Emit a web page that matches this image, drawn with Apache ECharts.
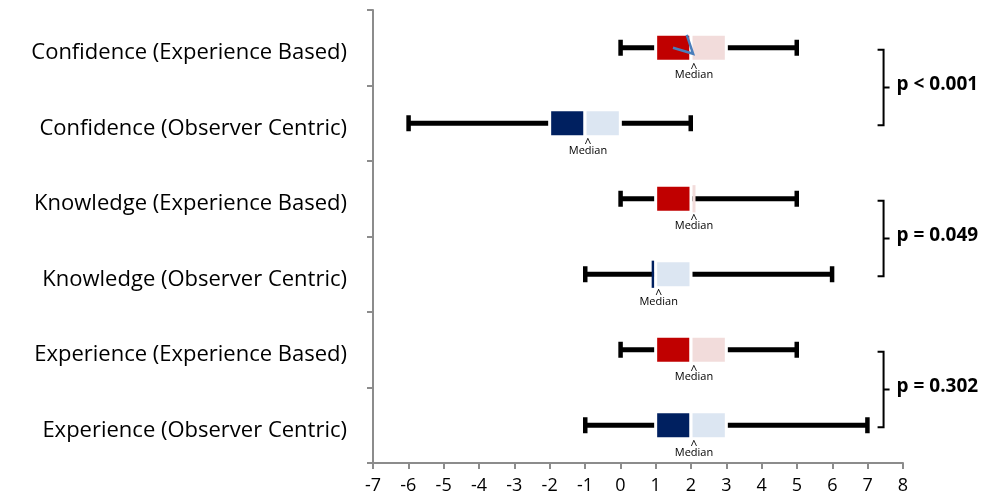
<!DOCTYPE html>
<html>
<head>
<meta charset="utf-8">
<script src="https://cdn.jsdelivr.net/npm/echarts@6/dist/echarts.min.js"></script>
<style>
html,body{margin:0;padding:0;background:#fff;}
#chart{width:991px;height:495px;}
</style>
</head>
<body>
<div id="chart"></div>
<script>
// ---- data ----
const categories = [
  'Confidence (Experience Based)',
  'Confidence (Observer Centric)',
  'Knowledge (Experience Based)',
  'Knowledge (Observer Centric)',
  'Experience (Experience Based)',
  'Experience (Observer Centric)'
];
const groups = ['EB', 'OC', 'EB', 'OC', 'EB', 'OC'];
const minValues    = [0, -6, 0, -1, 0, -1];
const q1Values     = [1, -2, 1,  1, 1,  1];
const medianValues = [2, -1, 2,  1, 2,  2];
const q3Values     = [3,  0, 2,  2, 3,  3];
const maxValues    = [5,  2, 5,  6, 5,  7];
const xMin = -7, xMax = 8, xInterval = 1;
const pLabels = ['p < 0.001', 'p = 0.049', 'p = 0.302'];
const pPairs = [[0, 1], [2, 3], [4, 5]];
const bracketX = 7.45;
// stray blue stroke seen over the first box (x in data units, y as fraction of band)
const strayStroke = { cat: 0, points: [[1.49, 0], [2.06, 0.08], [1.88, -0.17]] };

const colors = {
  EB: { dark: '#C00000', light: '#F2DCDB' },
  OC: { dark: '#002060', light: '#DCE6F2' }
};

const boxData = categories.map((c, i) => [i, minValues[i], q1Values[i], medianValues[i], q3Values[i], maxValues[i]]);
const bracketData = pPairs.map((p, i) => [bracketX, p[0], p[1], i]);

const FONT = '"Open Sans", "Liberation Sans", sans-serif';

function renderBox(params, api) {
  const cat = api.value(0);
  const mn = api.value(1), q1 = api.value(2), md = api.value(3), q3 = api.value(4), mx = api.value(5);
  const cy = api.coord([0, cat])[1];
  const band = api.size([0, 1])[1];
  const bh = band * 0.36;
  const px = v => api.coord([v, cat])[0];
  const col = colors[groups[cat]];
  const top = cy - bh / 2;
  const children = [];
  // whisker
  children.push({ type: 'line', shape: { x1: px(mn), y1: cy, x2: px(mx), y2: cy }, style: { stroke: '#000', lineWidth: 5 } });
  children.push({ type: 'rect', shape: { x: px(mn) - 2, y: cy - 8, width: 4.5, height: 16 }, style: { fill: '#000' } });
  children.push({ type: 'rect', shape: { x: px(mx) - 2.5, y: cy - 8, width: 4.5, height: 16 }, style: { fill: '#000' } });
  const xq1 = px(q1), xmd = px(md), xq3 = px(q3);
  if (xmd - xq1 > 3) {
    children.push({ type: 'rect', shape: { x: xq1, y: top, width: xmd - xq1, height: bh }, style: { fill: col.dark, stroke: '#fff', lineWidth: 3 } });
  } else {
    children.push({ type: 'rect', shape: { x: xmd - 4, y: top, width: 3, height: bh }, style: { fill: col.dark } });
  }
  if (xq3 - xmd > 3) {
    children.push({ type: 'rect', shape: { x: xmd, y: top, width: xq3 - xmd, height: bh }, style: { fill: col.light, stroke: '#fff', lineWidth: 3 } });
  } else {
    children.push({ type: 'rect', shape: { x: xmd + 1.5, y: top, width: 3, height: bh }, style: { fill: col.light } });
  }
  // median marker
  children.push({ type: 'text', x: xmd + 3, y: top + bh + 1, style: { text: '^', fill: '#000', font: '12px ' + FONT, align: 'center', verticalAlign: 'top' } });
  children.push({ type: 'text', x: xmd + 3, y: top + bh + 14, style: { text: 'Median', fill: '#000', font: '11px ' + FONT, align: 'center', verticalAlign: 'middle' } });
  if (cat === strayStroke.cat) {
    const pts = strayStroke.points.map(p => [px(p[0]), cy + p[1] * band]);
    children.push({ type: 'polyline', shape: { points: pts }, style: { stroke: '#4A7EBB', lineWidth: 2.5, fill: null } });
  }
  return { type: 'group', children };
}

function renderBracket(params, api) {
  const x = api.coord([api.value(0), 0])[0];
  const y1 = api.coord([0, api.value(1)])[1] + 2;
  const y2 = api.coord([0, api.value(2)])[1] + 2;
  const idx = api.value(3);
  const ym = (y1 + y2) / 2;
  const st = { stroke: '#000', lineWidth: 2, fill: null };
  return {
    type: 'group',
    children: [
      { type: 'polyline', shape: { points: [[x - 6, y1], [x, y1], [x, y2], [x - 6, y2]] }, style: st },
      { type: 'line', shape: { x1: x, y1: ym, x2: x + 6, y2: ym }, style: st },
      { type: 'text', x: x + 13, y: ym - 3, style: { text: pLabels[idx], fill: '#000', font: 'bold 19px ' + FONT, align: 'left', verticalAlign: 'middle' } }
    ]
  };
}

const chart = echarts.init(document.getElementById('chart'));
chart.setOption({
  animation: false,
  backgroundColor: '#fff',
  grid: { left: 373, right: 88, top: 10, bottom: 30 },
  xAxis: {
    type: 'value', min: xMin, max: xMax, interval: xInterval,
    splitLine: { show: false },
    axisLine: { show: true, lineStyle: { color: '#8C8C8C', width: 2 } },
    axisTick: { show: true, length: 6, lineStyle: { color: '#8C8C8C', width: 2 } },
    axisLabel: { color: '#000', fontSize: 18, fontFamily: FONT, margin: 14 }
  },
  yAxis: {
    type: 'category', data: categories, inverse: true,
    axisLine: { show: true, onZero: false, lineStyle: { color: '#8C8C8C', width: 2 } },
    axisTick: { show: true, length: 6, lineStyle: { color: '#8C8C8C', width: 2 } },
    axisLabel: {
      margin: 26,
      formatter: v => '{a|' + v + '}',
      rich: { a: { color: '#000', fontSize: 22, fontFamily: FONT, lineHeight: 28, padding: [10, 0, 0, 0] } }
    },
    splitLine: { show: false }
  },
  series: [
    { type: 'custom', renderItem: renderBox, data: boxData, clip: false, encode: { x: [1, 2, 3, 4, 5], y: 0 } },
    { type: 'custom', renderItem: renderBracket, data: bracketData, clip: false, encode: { x: 0, y: [1, 2] } }
  ]
});
</script>
</body>
</html>
